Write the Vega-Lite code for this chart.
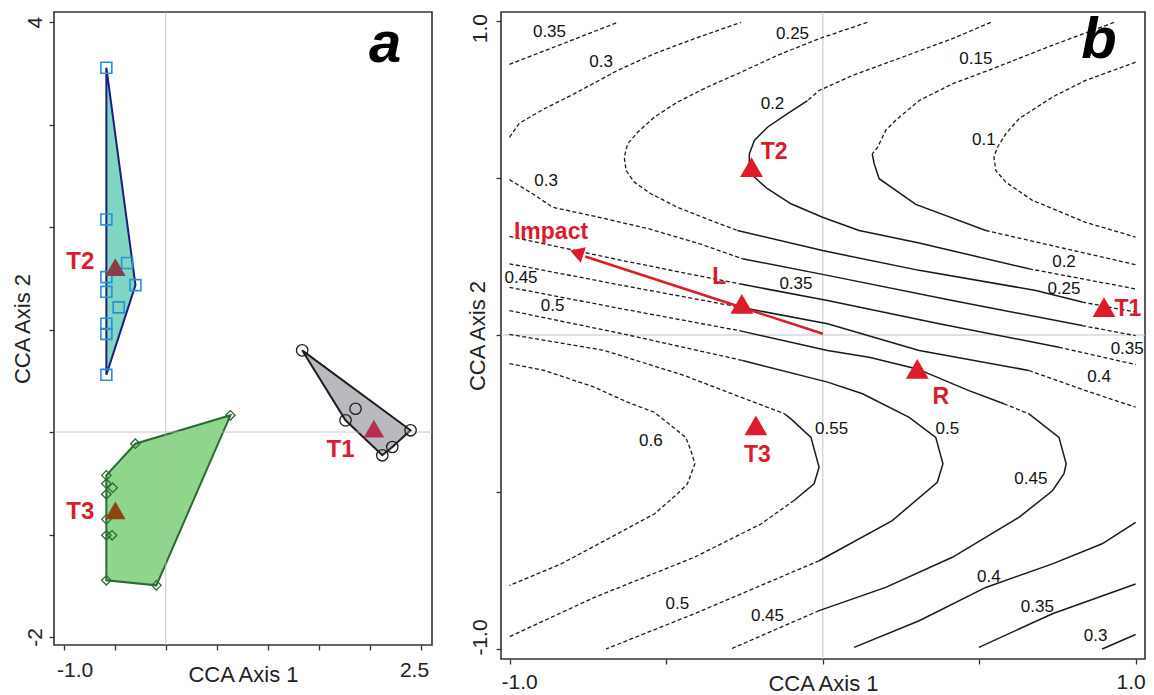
{
  "$schema": "https://vega.github.io/schema/vega-lite/v6.json",
  "background": "white",
  "padding": {"left": 10, "top": 10, "right": 6, "bottom": 0},
  "spacing": 31,
  "config": {
    "font": "Liberation Sans",
    "view": {"stroke": "#333", "strokeWidth": 1.6},
    "axis": {"grid": false, "domain": false, "labelFont": "Liberation Sans", "titleFont": "Liberation Sans", "labelFontSize": 21, "titleFontSize": 22, "titleFontWeight": "normal", "labelColor": "#222", "titleColor": "#222", "tickColor": "#333", "tickSize": 5, "tickWidth": 1.3, "labelOverlap": false, "labelFlush": false, "labelBound": false}
  },
  "datasets": {
    "a_samples": [
      {"g": "T2", "x": -0.582, "y": 3.554}, {"g": "T2", "x": -0.582, "y": 2.074}, {"g": "T2", "x": -0.582, "y": 1.511}, {"g": "T2", "x": -0.582, "y": 1.368}, {"g": "T2", "x": -0.582, "y": 1.056}, {"g": "T2", "x": -0.582, "y": 0.957}, {"g": "T2", "x": -0.582, "y": 0.558}, {"g": "T2", "x": -0.379, "y": 1.649}, {"g": "T2", "x": -0.297, "y": 1.433}, {"g": "T2", "x": -0.461, "y": 1.216},
      {"g": "T3", "x": 0.633, "y": 0.163}, {"g": "T3", "x": -0.298, "y": -0.114}, {"g": "T3", "x": -0.582, "y": -0.423}, {"g": "T3", "x": -0.582, "y": -0.504}, {"g": "T3", "x": -0.52, "y": -0.543}, {"g": "T3", "x": -0.582, "y": -0.608}, {"g": "T3", "x": -0.582, "y": -0.852}, {"g": "T3", "x": -0.582, "y": -1.008}, {"g": "T3", "x": -0.526, "y": -1.008}, {"g": "T3", "x": -0.582, "y": -1.447}, {"g": "T3", "x": -0.092, "y": -1.496},
      {"g": "T1", "x": 1.336, "y": 0.797}, {"g": "T1", "x": 1.859, "y": 0.227}, {"g": "T1", "x": 1.761, "y": 0.114}, {"g": "T1", "x": 2.398, "y": 0.017}, {"g": "T1", "x": 2.219, "y": -0.146}, {"g": "T1", "x": 2.121, "y": -0.227}
    ],
    "a_hulls": [
      {"g": "T2", "o": 1, "x": -0.582, "y": 3.554}, {"g": "T2", "o": 2, "x": -0.297, "y": 1.433}, {"g": "T2", "o": 3, "x": -0.582, "y": 0.558},
      {"g": "T3", "o": 1, "x": 0.633, "y": 0.163}, {"g": "T3", "o": 2, "x": -0.298, "y": -0.114}, {"g": "T3", "o": 3, "x": -0.582, "y": -0.423}, {"g": "T3", "o": 4, "x": -0.582, "y": -1.447}, {"g": "T3", "o": 5, "x": -0.092, "y": -1.496},
      {"g": "T1", "o": 1, "x": 1.336, "y": 0.797}, {"g": "T1", "o": 2, "x": 2.398, "y": 0.017}, {"g": "T1", "o": 3, "x": 2.219, "y": -0.146}, {"g": "T1", "o": 4, "x": 2.121, "y": -0.227}, {"g": "T1", "o": 5, "x": 1.761, "y": 0.114}
    ],
    "a_centroids": [
      {"g": "T2", "x": -0.494, "y": 1.61}, {"g": "T3", "x": -0.494, "y": -0.764}, {"g": "T1", "x": 2.039, "y": 0.033}
    ],
    "a_labels": [
      {"label": "T2", "x": -0.837, "y": 1.659}, {"label": "T3", "x": -0.837, "y": -0.78}, {"label": "T1", "x": 1.712, "y": -0.178}
    ],
    "a_tag": [{"label": "a", "x": 2.15, "y": 3.61}],
    "b_dash": [
      {"seg": "d035u", "o": 1, "x": -1.002, "y": 0.862}, {"seg": "d035u", "o": 2, "x": -0.656, "y": 0.996},
      {"seg": "d030u", "o": 1, "x": -1.002, "y": 0.63}, {"seg": "d030u", "o": 2, "x": -0.97, "y": 0.675}, {"seg": "d030u", "o": 3, "x": -0.89, "y": 0.721}, {"seg": "d030u", "o": 4, "x": -0.794, "y": 0.769}, {"seg": "d030u", "o": 5, "x": -0.656, "y": 0.843}, {"seg": "d030u", "o": 6, "x": -0.539, "y": 0.896}, {"seg": "d030u", "o": 7, "x": -0.411, "y": 0.944}, {"seg": "d030u", "o": 8, "x": -0.262, "y": 0.996},
      {"seg": "d025a", "o": 1, "x": 0.142, "y": 0.996}, {"seg": "d025a", "o": 2, "x": -0.012, "y": 0.944}, {"seg": "d025a", "o": 3, "x": -0.145, "y": 0.891}, {"seg": "d025a", "o": 4, "x": -0.262, "y": 0.837}, {"seg": "d025a", "o": 5, "x": -0.369, "y": 0.79}, {"seg": "d025a", "o": 6, "x": -0.465, "y": 0.742}, {"seg": "d025a", "o": 7, "x": -0.539, "y": 0.694}, {"seg": "d025a", "o": 8, "x": -0.592, "y": 0.646}, {"seg": "d025a", "o": 9, "x": -0.624, "y": 0.609}, {"seg": "d025a", "o": 10, "x": -0.635, "y": 0.567}, {"seg": "d025a", "o": 11, "x": -0.629, "y": 0.524}, {"seg": "d025a", "o": 12, "x": -0.603, "y": 0.487}, {"seg": "d025a", "o": 13, "x": -0.55, "y": 0.45}, {"seg": "d025a", "o": 14, "x": -0.465, "y": 0.407}, {"seg": "d025a", "o": 15, "x": -0.358, "y": 0.365}, {"seg": "d025a", "o": 16, "x": -0.273, "y": 0.333},
      {"seg": "d025b", "o": 1, "x": 0.829, "y": 0.105}, {"seg": "d025b", "o": 2, "x": 1.0, "y": 0.073},
      {"seg": "d020a", "o": 1, "x": 0.537, "y": 0.996}, {"seg": "d020a", "o": 2, "x": 0.414, "y": 0.944}, {"seg": "d020a", "o": 3, "x": 0.254, "y": 0.885}, {"seg": "d020a", "o": 4, "x": 0.095, "y": 0.827}, {"seg": "d020a", "o": 5, "x": -0.012, "y": 0.779}, {"seg": "d020a", "o": 6, "x": -0.049, "y": 0.747},
      {"seg": "d020b", "o": 1, "x": 0.659, "y": 0.211}, {"seg": "d020b", "o": 2, "x": 1.0, "y": 0.147},
      {"seg": "d015a", "o": 1, "x": 0.931, "y": 0.996}, {"seg": "d015a", "o": 2, "x": 0.734, "y": 0.923}, {"seg": "d015a", "o": 3, "x": 0.542, "y": 0.848}, {"seg": "d015a", "o": 4, "x": 0.414, "y": 0.8}, {"seg": "d015a", "o": 5, "x": 0.308, "y": 0.747}, {"seg": "d015a", "o": 6, "x": 0.233, "y": 0.684}, {"seg": "d015a", "o": 7, "x": 0.201, "y": 0.652}, {"seg": "d015a", "o": 8, "x": 0.175, "y": 0.598}, {"seg": "d015a", "o": 9, "x": 0.158, "y": 0.577},
      {"seg": "d015b", "o": 1, "x": 0.521, "y": 0.333}, {"seg": "d015b", "o": 2, "x": 1.0, "y": 0.224},
      {"seg": "d010", "o": 1, "x": 1.0, "y": 0.869}, {"seg": "d010", "o": 2, "x": 0.84, "y": 0.811}, {"seg": "d010", "o": 3, "x": 0.734, "y": 0.758}, {"seg": "d010", "o": 4, "x": 0.627, "y": 0.689}, {"seg": "d010", "o": 5, "x": 0.585, "y": 0.641}, {"seg": "d010", "o": 6, "x": 0.558, "y": 0.598}, {"seg": "d010", "o": 7, "x": 0.547, "y": 0.567}, {"seg": "d010", "o": 8, "x": 0.553, "y": 0.524}, {"seg": "d010", "o": 9, "x": 0.585, "y": 0.487}, {"seg": "d010", "o": 10, "x": 0.67, "y": 0.429}, {"seg": "d010", "o": 11, "x": 0.84, "y": 0.359}, {"seg": "d010", "o": 12, "x": 1.0, "y": 0.312},
      {"seg": "d030l", "o": 1, "x": -1.002, "y": 0.495}, {"seg": "d030l", "o": 2, "x": -0.928, "y": 0.45}, {"seg": "d030l", "o": 3, "x": -0.864, "y": 0.407}, {"seg": "d030l", "o": 4, "x": -0.715, "y": 0.375}, {"seg": "d030l", "o": 5, "x": -0.555, "y": 0.338}, {"seg": "d030l", "o": 6, "x": -0.395, "y": 0.291}, {"seg": "d030l", "o": 7, "x": -0.257, "y": 0.243},
      {"seg": "d030m", "o": 1, "x": 0.829, "y": 0.03}, {"seg": "d030m", "o": 2, "x": 1.0, "y": -0.002},
      {"seg": "d035a", "o": 1, "x": -1.002, "y": 0.314}, {"seg": "d035a", "o": 2, "x": -0.64, "y": 0.237}, {"seg": "d035a", "o": 3, "x": -0.267, "y": 0.163},
      {"seg": "d035b", "o": 1, "x": 0.755, "y": -0.039}, {"seg": "d035b", "o": 2, "x": 1.0, "y": -0.094},
      {"seg": "d040a", "o": 1, "x": -1.002, "y": 0.227}, {"seg": "d040a", "o": 2, "x": -0.64, "y": 0.158}, {"seg": "d040a", "o": 3, "x": -0.267, "y": 0.089},
      {"seg": "d040b", "o": 1, "x": 0.659, "y": -0.113}, {"seg": "d040b", "o": 2, "x": 0.84, "y": -0.177}, {"seg": "d040b", "o": 3, "x": 1.0, "y": -0.23},
      {"seg": "d045a", "o": 1, "x": -1.002, "y": 0.152}, {"seg": "d045a", "o": 2, "x": -0.64, "y": 0.083}, {"seg": "d045a", "o": 3, "x": -0.267, "y": 0.014},
      {"seg": "d045b", "o": 1, "x": 0.579, "y": -0.219}, {"seg": "d045b", "o": 2, "x": 0.659, "y": -0.251},
      {"seg": "d045c", "o": 1, "x": -0.012, "y": -0.878}, {"seg": "d045c", "o": 2, "x": -0.294, "y": -1.0},
      {"seg": "d050a", "o": 1, "x": -1.002, "y": 0.078}, {"seg": "d050a", "o": 2, "x": -0.64, "y": 0.004}, {"seg": "d050a", "o": 3, "x": -0.257, "y": -0.081},
      {"seg": "d050b", "o": 1, "x": -0.012, "y": -0.719}, {"seg": "d050b", "o": 2, "x": -0.411, "y": -0.888}, {"seg": "d050b", "o": 3, "x": -0.693, "y": -1.0},
      {"seg": "d055a", "o": 1, "x": -1.002, "y": 0.002}, {"seg": "d055a", "o": 2, "x": -0.699, "y": -0.049}, {"seg": "d055a", "o": 3, "x": -0.443, "y": -0.129}, {"seg": "d055a", "o": 4, "x": -0.252, "y": -0.202}, {"seg": "d055a", "o": 5, "x": -0.124, "y": -0.25},
      {"seg": "d055b", "o": 1, "x": -0.092, "y": -0.527}, {"seg": "d055b", "o": 2, "x": -0.198, "y": -0.602}, {"seg": "d055b", "o": 3, "x": -0.411, "y": -0.708}, {"seg": "d055b", "o": 4, "x": -0.731, "y": -0.836}, {"seg": "d055b", "o": 5, "x": -1.002, "y": -0.961},
      {"seg": "d060", "o": 1, "x": -1.002, "y": -0.091}, {"seg": "d060", "o": 2, "x": -0.89, "y": -0.113}, {"seg": "d060", "o": 3, "x": -0.731, "y": -0.166}, {"seg": "d060", "o": 4, "x": -0.624, "y": -0.214}, {"seg": "d060", "o": 5, "x": -0.539, "y": -0.246}, {"seg": "d060", "o": 6, "x": -0.438, "y": -0.326}, {"seg": "d060", "o": 7, "x": -0.422, "y": -0.368}, {"seg": "d060", "o": 8, "x": -0.409, "y": -0.41}, {"seg": "d060", "o": 9, "x": -0.433, "y": -0.474}, {"seg": "d060", "o": 10, "x": -0.465, "y": -0.506}, {"seg": "d060", "o": 11, "x": -0.539, "y": -0.57}, {"seg": "d060", "o": 12, "x": -0.677, "y": -0.644}, {"seg": "d060", "o": 13, "x": -0.837, "y": -0.729}, {"seg": "d060", "o": 14, "x": -1.002, "y": -0.798}
    ],
    "b_solid": [
      {"seg": "s025", "o": 1, "x": -0.273, "y": 0.333}, {"seg": "s025", "o": 2, "x": -0.001, "y": 0.269}, {"seg": "s025", "o": 3, "x": 0.308, "y": 0.206}, {"seg": "s025", "o": 4, "x": 0.681, "y": 0.142}, {"seg": "s025", "o": 5, "x": 0.829, "y": 0.105},
      {"seg": "s020", "o": 1, "x": -0.049, "y": 0.747}, {"seg": "s020", "o": 2, "x": -0.113, "y": 0.705}, {"seg": "s020", "o": 3, "x": -0.177, "y": 0.662}, {"seg": "s020", "o": 4, "x": -0.219, "y": 0.62}, {"seg": "s020", "o": 5, "x": -0.235, "y": 0.577}, {"seg": "s020", "o": 6, "x": -0.235, "y": 0.535}, {"seg": "s020", "o": 7, "x": -0.219, "y": 0.503}, {"seg": "s020", "o": 8, "x": -0.177, "y": 0.466}, {"seg": "s020", "o": 9, "x": -0.102, "y": 0.418}, {"seg": "s020", "o": 10, "x": -0.001, "y": 0.375}, {"seg": "s020", "o": 11, "x": 0.116, "y": 0.333}, {"seg": "s020", "o": 12, "x": 0.308, "y": 0.293}, {"seg": "s020", "o": 13, "x": 0.659, "y": 0.211},
      {"seg": "s015", "o": 1, "x": 0.158, "y": 0.577}, {"seg": "s015", "o": 2, "x": 0.164, "y": 0.546}, {"seg": "s015", "o": 3, "x": 0.18, "y": 0.498}, {"seg": "s015", "o": 4, "x": 0.297, "y": 0.416}, {"seg": "s015", "o": 5, "x": 0.521, "y": 0.333},
      {"seg": "s030", "o": 1, "x": -0.257, "y": 0.243}, {"seg": "s030", "o": 2, "x": 0.015, "y": 0.19}, {"seg": "s030", "o": 3, "x": 0.414, "y": 0.11}, {"seg": "s030", "o": 4, "x": 0.829, "y": 0.03},
      {"seg": "s035", "o": 1, "x": -0.267, "y": 0.163}, {"seg": "s035", "o": 2, "x": 0.015, "y": 0.11}, {"seg": "s035", "o": 3, "x": 0.372, "y": 0.036}, {"seg": "s035", "o": 4, "x": 0.755, "y": -0.039},
      {"seg": "s040", "o": 1, "x": -0.267, "y": 0.089}, {"seg": "s040", "o": 2, "x": 0.015, "y": 0.036}, {"seg": "s040", "o": 3, "x": 0.308, "y": -0.049}, {"seg": "s040", "o": 4, "x": 0.659, "y": -0.113},
      {"seg": "s045a", "o": 1, "x": -0.267, "y": 0.014}, {"seg": "s045a", "o": 2, "x": 0.015, "y": -0.049}, {"seg": "s045a", "o": 3, "x": 0.148, "y": -0.071}, {"seg": "s045a", "o": 4, "x": 0.302, "y": -0.108}, {"seg": "s045a", "o": 5, "x": 0.467, "y": -0.177}, {"seg": "s045a", "o": 6, "x": 0.579, "y": -0.219},
      {"seg": "s045b", "o": 1, "x": 0.659, "y": -0.251}, {"seg": "s045b", "o": 2, "x": 0.755, "y": -0.326}, {"seg": "s045b", "o": 3, "x": 0.778, "y": -0.41}, {"seg": "s045b", "o": 4, "x": 0.771, "y": -0.442}, {"seg": "s045b", "o": 5, "x": 0.734, "y": -0.496}, {"seg": "s045b", "o": 6, "x": 0.627, "y": -0.581}, {"seg": "s045b", "o": 7, "x": 0.414, "y": -0.708}, {"seg": "s045b", "o": 8, "x": 0.201, "y": -0.804}, {"seg": "s045b", "o": 9, "x": -0.012, "y": -0.878},
      {"seg": "s050", "o": 1, "x": -0.257, "y": -0.081}, {"seg": "s050", "o": 2, "x": 0.015, "y": -0.15}, {"seg": "s050", "o": 3, "x": 0.127, "y": -0.187}, {"seg": "s050", "o": 4, "x": 0.276, "y": -0.262}, {"seg": "s050", "o": 5, "x": 0.361, "y": -0.326}, {"seg": "s050", "o": 6, "x": 0.384, "y": -0.41}, {"seg": "s050", "o": 7, "x": 0.366, "y": -0.469}, {"seg": "s050", "o": 8, "x": 0.222, "y": -0.591}, {"seg": "s050", "o": 9, "x": -0.012, "y": -0.719},
      {"seg": "s055", "o": 1, "x": -0.124, "y": -0.25}, {"seg": "s055", "o": 2, "x": -0.102, "y": -0.267}, {"seg": "s055", "o": 3, "x": -0.038, "y": -0.326}, {"seg": "s055", "o": 4, "x": -0.012, "y": -0.421}, {"seg": "s055", "o": 5, "x": -0.028, "y": -0.474}, {"seg": "s055", "o": 6, "x": -0.092, "y": -0.527},
      {"seg": "s040l", "o": 1, "x": 0.1, "y": -0.995}, {"seg": "s040l", "o": 2, "x": 0.308, "y": -0.91}, {"seg": "s040l", "o": 3, "x": 0.521, "y": -0.804}, {"seg": "s040l", "o": 4, "x": 0.734, "y": -0.729}, {"seg": "s040l", "o": 5, "x": 0.893, "y": -0.665}, {"seg": "s040l", "o": 6, "x": 1.0, "y": -0.597},
      {"seg": "s035l", "o": 1, "x": 0.499, "y": -0.995}, {"seg": "s035l", "o": 2, "x": 0.734, "y": -0.888}, {"seg": "s035l", "o": 3, "x": 1.0, "y": -0.793},
      {"seg": "s030l", "o": 1, "x": 0.893, "y": -1.0}, {"seg": "s030l", "o": 2, "x": 1.0, "y": -0.954}
    ],
    "b_levels": [
      {"label": "0.35", "x": -0.874, "y": 0.965}, {"label": "0.3", "x": -0.709, "y": 0.869}, {"label": "0.25", "x": -0.097, "y": 0.96}, {"label": "0.2", "x": -0.161, "y": 0.737}, {"label": "0.15", "x": 0.489, "y": 0.88}, {"label": "0.1", "x": 0.515, "y": 0.62},
      {"label": "0.3", "x": -0.885, "y": 0.492}, {"label": "0.2", "x": 0.771, "y": 0.232}, {"label": "0.25", "x": 0.771, "y": 0.147}, {"label": "0.35", "x": -0.086, "y": 0.163}, {"label": "0.45", "x": -0.965, "y": 0.182}, {"label": "0.5", "x": -0.864, "y": 0.092},
      {"label": "0.35", "x": 0.973, "y": -0.044}, {"label": "0.4", "x": 0.883, "y": -0.134}, {"label": "0.6", "x": -0.55, "y": -0.336}, {"label": "0.55", "x": 0.028, "y": -0.299}, {"label": "0.5", "x": 0.398, "y": -0.299}, {"label": "0.45", "x": 0.665, "y": -0.458},
      {"label": "0.5", "x": -0.465, "y": -0.857}, {"label": "0.45", "x": -0.177, "y": -0.894}, {"label": "0.4", "x": 0.531, "y": -0.772}, {"label": "0.35", "x": 0.686, "y": -0.867}, {"label": "0.3", "x": 0.872, "y": -0.958}
    ],
    "b_sites": [
      {"label": "T2", "x": -0.228, "y": 0.535}, {"label": "L", "x": -0.259, "y": 0.099}, {"label": "T1", "x": 0.899, "y": 0.089}, {"label": "R", "x": 0.302, "y": -0.108}, {"label": "T3", "x": -0.214, "y": -0.288}
    ],
    "b_sitelabels": [
      {"label": "T2", "x": -0.156, "y": 0.583}, {"label": "Impact", "x": -0.869, "y": 0.328}, {"label": "L", "x": -0.331, "y": 0.184}, {"label": "T1", "x": 0.975, "y": 0.084}, {"label": "R", "x": 0.377, "y": -0.198}, {"label": "T3", "x": -0.209, "y": -0.381}
    ],
    "b_arrow": [{"o": 1, "x": 0.0, "y": 0.004}, {"o": 2, "x": -0.76, "y": 0.25}],
    "b_arrowhead": [{"x": -0.787, "y": 0.262}],
    "b_tag": [{"label": "b", "x": 0.883, "y": 0.881}]
  },
  "hconcat": [
    {
      "width": 378,
      "height": 633,
      "layer": [
        {
          "data": {"name": "a_hulls"},
          "transform": [{"filter": "datum.g == 'T2'"}],
          "mark": {"type": "line", "interpolate": "linear-closed", "fill": "#80d6c2", "stroke": "#1b1f7e", "strokeWidth": 2},
          "encoding": {
            "x": {"field": "x", "type": "quantitative", "title": "CCA Axis 1", "scale": {"domain": [-1.095, 2.608], "nice": false, "zero": false},
                  "axis": {"title": "CCA Axis 1", "values": [-1, -0.5, 0, 0.5, 1, 1.5, 2, 2.5], "labelExpr": "datum.value == -1 ? '-1.0' : (datum.value == 2.5 ? '2.5' : '')", "labelPadding": 9, "labelOffset": {"condition": {"test": "datum.value < 0", "value": 11}, "value": -7}, "titleY": 29, "titleBaseline": "middle"}},
            "y": {"field": "y", "type": "quantitative", "title": "CCA Axis 2", "scale": {"domain": [-2.078, 4.098], "nice": false, "zero": false},
                  "axis": {"title": "CCA Axis 2", "values": [-2, -1, 0, 1, 2, 3, 4], "labelExpr": "datum.value == 4 ? '4' : (datum.value == -2 ? '-2' : '')", "labelAngle": 270, "labelAlign": "center", "labelBaseline": "bottom", "labelPadding": 4, "titleAngle": 270, "titleX": -32, "titleBaseline": "middle"}},
            "order": {"field": "o", "type": "quantitative"}
          }
        },
        {
          "data": {"name": "a_hulls"},
          "transform": [{"filter": "datum.g == 'T3'"}],
          "mark": {"type": "line", "interpolate": "linear-closed", "fill": "#8fd68c", "stroke": "#2c6a32", "strokeWidth": 2},
          "encoding": {
            "x": {"field": "x", "type": "quantitative", "title": "CCA Axis 1", "scale": {"domain": [-1.095, 2.608], "nice": false, "zero": false}},
            "y": {"field": "y", "type": "quantitative", "title": "CCA Axis 2", "scale": {"domain": [-2.078, 4.098], "nice": false, "zero": false}},
            "order": {"field": "o", "type": "quantitative"}
          }
        },
        {
          "data": {"name": "a_hulls"},
          "transform": [{"filter": "datum.g == 'T1'"}],
          "mark": {"type": "line", "interpolate": "linear-closed", "fill": "#b9b9c0", "stroke": "#1e1e1e", "strokeWidth": 2},
          "encoding": {
            "x": {"field": "x", "type": "quantitative", "title": "CCA Axis 1", "scale": {"domain": [-1.095, 2.608], "nice": false, "zero": false}},
            "y": {"field": "y", "type": "quantitative", "title": "CCA Axis 2", "scale": {"domain": [-2.078, 4.098], "nice": false, "zero": false}},
            "order": {"field": "o", "type": "quantitative"}
          }
        },
        {
          "data": {"values": [{}]},
          "mark": {"type": "rule", "color": "#b8b8b8", "strokeWidth": 1, "opacity": 0.8},
          "encoding": {"x": {"datum": 0, "type": "quantitative", "title": "CCA Axis 1", "scale": {"domain": [-1.095, 2.608], "nice": false, "zero": false}}}
        },
        {
          "data": {"values": [{}]},
          "mark": {"type": "rule", "color": "#b8b8b8", "strokeWidth": 1, "opacity": 0.8},
          "encoding": {"y": {"datum": 0, "type": "quantitative", "title": "CCA Axis 2", "scale": {"domain": [-2.078, 4.098], "nice": false, "zero": false}}}
        },
        {
          "data": {"name": "a_samples"},
          "transform": [{"filter": "datum.g == 'T2'"}],
          "mark": {"type": "point", "shape": "square", "filled": false, "stroke": "#2b8fd6", "strokeWidth": 1.6, "size": 120, "opacity": 1},
          "encoding": {
            "x": {"field": "x", "type": "quantitative", "title": "CCA Axis 1", "scale": {"domain": [-1.095, 2.608], "nice": false, "zero": false}},
            "y": {"field": "y", "type": "quantitative", "title": "CCA Axis 2", "scale": {"domain": [-2.078, 4.098], "nice": false, "zero": false}}
          }
        },
        {
          "data": {"name": "a_samples"},
          "transform": [{"filter": "datum.g == 'T3'"}],
          "mark": {"type": "point", "shape": "diamond", "filled": false, "stroke": "#2c6a32", "strokeWidth": 1.3, "size": 90, "opacity": 1},
          "encoding": {
            "x": {"field": "x", "type": "quantitative", "title": "CCA Axis 1", "scale": {"domain": [-1.095, 2.608], "nice": false, "zero": false}},
            "y": {"field": "y", "type": "quantitative", "title": "CCA Axis 2", "scale": {"domain": [-2.078, 4.098], "nice": false, "zero": false}}
          }
        },
        {
          "data": {"name": "a_samples"},
          "transform": [{"filter": "datum.g == 'T1'"}],
          "mark": {"type": "point", "shape": "circle", "filled": false, "stroke": "#1e1e1e", "strokeWidth": 1.3, "size": 130, "opacity": 1},
          "encoding": {
            "x": {"field": "x", "type": "quantitative", "title": "CCA Axis 1", "scale": {"domain": [-1.095, 2.608], "nice": false, "zero": false}},
            "y": {"field": "y", "type": "quantitative", "title": "CCA Axis 2", "scale": {"domain": [-2.078, 4.098], "nice": false, "zero": false}}
          }
        },
        {
          "data": {"name": "a_centroids"},
          "mark": {"type": "point", "shape": "triangle-up", "filled": true, "size": 420, "opacity": 1, "strokeWidth": 0},
          "encoding": {
            "x": {"field": "x", "type": "quantitative", "title": "CCA Axis 1", "scale": {"domain": [-1.095, 2.608], "nice": false, "zero": false}},
            "y": {"field": "y", "type": "quantitative", "title": "CCA Axis 2", "scale": {"domain": [-2.078, 4.098], "nice": false, "zero": false}},
            "fill": {"field": "g", "type": "nominal", "scale": {"domain": ["T1", "T2", "T3"], "range": ["#b5304f", "#8a3c48", "#8a4714"]}, "legend": null}
          }
        },
        {
          "data": {"name": "a_labels"},
          "mark": {"type": "text", "fontSize": 24, "fontWeight": "bold", "color": "#d81e2e", "align": "center", "baseline": "middle"},
          "encoding": {
            "x": {"field": "x", "type": "quantitative", "title": "CCA Axis 1", "scale": {"domain": [-1.095, 2.608], "nice": false, "zero": false}},
            "y": {"field": "y", "type": "quantitative", "title": "CCA Axis 2", "scale": {"domain": [-2.078, 4.098], "nice": false, "zero": false}},
            "text": {"field": "label", "type": "nominal"}
          }
        },
        {
          "data": {"name": "a_tag"},
          "mark": {"type": "text", "fontSize": 58, "fontWeight": "bold", "fontStyle": "italic", "color": "#000", "align": "center", "baseline": "alphabetic"},
          "encoding": {
            "x": {"field": "x", "type": "quantitative", "title": "CCA Axis 1", "scale": {"domain": [-1.095, 2.608], "nice": false, "zero": false}},
            "y": {"field": "y", "type": "quantitative", "title": "CCA Axis 2", "scale": {"domain": [-2.078, 4.098], "nice": false, "zero": false}},
            "text": {"field": "label", "type": "nominal"}
          }
        }
      ]
    },
    {
      "width": 644,
      "height": 647,
      "layer": [
        {
          "data": {"values": [{}]},
          "mark": {"type": "rule", "color": "#c4c4c4", "strokeWidth": 1},
          "encoding": {"x": {"datum": 0, "type": "quantitative", "title": "CCA Axis 1", "scale": {"domain": [-1.029, 1.03], "nice": false, "zero": false}}}
        },
        {
          "data": {"values": [{}]},
          "mark": {"type": "rule", "color": "#c4c4c4", "strokeWidth": 1},
          "encoding": {"y": {"datum": 0, "type": "quantitative", "title": "CCA Axis 2", "scale": {"domain": [-1.032, 1.029], "nice": false, "zero": false}}}
        },
        {
          "data": {"name": "b_dash"},
          "mark": {"type": "line", "color": "#1a1a1a", "strokeWidth": 1.3, "strokeDash": [4, 2.5]},
          "encoding": {
            "x": {"field": "x", "type": "quantitative", "title": "CCA Axis 1", "scale": {"domain": [-1.029, 1.03], "nice": false, "zero": false},
                  "axis": {"title": "CCA Axis 1", "values": [-1, -0.5, 0, 0.5, 1], "labelExpr": "datum.value == -1 ? '-1.0' : (datum.value == 1 ? '1.0' : '')", "labelPadding": 7, "labelOffset": {"condition": {"test": "datum.value < 0", "value": 9}, "value": -5}, "titleY": 24, "titleBaseline": "middle"}},
            "y": {"field": "y", "type": "quantitative", "title": "CCA Axis 2", "scale": {"domain": [-1.032, 1.029], "nice": false, "zero": false},
                  "axis": {"title": "CCA Axis 2", "values": [-1, -0.5, 0, 0.5, 1], "labelExpr": "datum.value == 1 ? '1.0' : (datum.value == -1 ? '-1.0' : '')", "labelAngle": 270, "labelAlign": "center", "labelBaseline": "bottom", "labelPadding": 6, "labelOffset": {"condition": {"test": "datum.value > 0", "value": 7}, "value": -12}, "titleAngle": 270, "titleX": -24, "titleBaseline": "middle"}},
            "detail": {"field": "seg", "type": "nominal"},
            "order": {"field": "o", "type": "quantitative"}
          }
        },
        {
          "data": {"name": "b_solid"},
          "mark": {"type": "line", "color": "#1a1a1a", "strokeWidth": 1.5},
          "encoding": {
            "x": {"field": "x", "type": "quantitative", "title": "CCA Axis 1", "scale": {"domain": [-1.029, 1.03], "nice": false, "zero": false}},
            "y": {"field": "y", "type": "quantitative", "title": "CCA Axis 2", "scale": {"domain": [-1.032, 1.029], "nice": false, "zero": false}},
            "detail": {"field": "seg", "type": "nominal"},
            "order": {"field": "o", "type": "quantitative"}
          }
        },
        {
          "data": {"name": "b_levels"},
          "mark": {"type": "text", "fontSize": 17, "color": "#111", "align": "center", "baseline": "middle"},
          "encoding": {
            "x": {"field": "x", "type": "quantitative", "title": "CCA Axis 1", "scale": {"domain": [-1.029, 1.03], "nice": false, "zero": false}},
            "y": {"field": "y", "type": "quantitative", "title": "CCA Axis 2", "scale": {"domain": [-1.032, 1.029], "nice": false, "zero": false}},
            "text": {"field": "label", "type": "nominal"}
          }
        },
        {
          "data": {"name": "b_arrow"},
          "mark": {"type": "line", "color": "#dc1b2b", "strokeWidth": 2.6},
          "encoding": {
            "x": {"field": "x", "type": "quantitative", "title": "CCA Axis 1", "scale": {"domain": [-1.029, 1.03], "nice": false, "zero": false}},
            "y": {"field": "y", "type": "quantitative", "title": "CCA Axis 2", "scale": {"domain": [-1.032, 1.029], "nice": false, "zero": false}},
            "order": {"field": "o", "type": "quantitative"}
          }
        },
        {
          "data": {"name": "b_arrowhead"},
          "mark": {"type": "point", "shape": "triangle-left", "filled": true, "color": "#dc1b2b", "size": 260, "angle": 18.5, "opacity": 1},
          "encoding": {
            "x": {"field": "x", "type": "quantitative", "title": "CCA Axis 1", "scale": {"domain": [-1.029, 1.03], "nice": false, "zero": false}},
            "y": {"field": "y", "type": "quantitative", "title": "CCA Axis 2", "scale": {"domain": [-1.032, 1.029], "nice": false, "zero": false}}
          }
        },
        {
          "data": {"name": "b_sites"},
          "mark": {"type": "point", "shape": "triangle-up", "filled": true, "color": "#dc1b2b", "size": 520, "opacity": 1},
          "encoding": {
            "x": {"field": "x", "type": "quantitative", "title": "CCA Axis 1", "scale": {"domain": [-1.029, 1.03], "nice": false, "zero": false}},
            "y": {"field": "y", "type": "quantitative", "title": "CCA Axis 2", "scale": {"domain": [-1.032, 1.029], "nice": false, "zero": false}}
          }
        },
        {
          "data": {"name": "b_sitelabels"},
          "mark": {"type": "text", "fontSize": 23, "fontWeight": "bold", "color": "#dc1b2b", "align": "center", "baseline": "middle"},
          "encoding": {
            "x": {"field": "x", "type": "quantitative", "title": "CCA Axis 1", "scale": {"domain": [-1.029, 1.03], "nice": false, "zero": false}},
            "y": {"field": "y", "type": "quantitative", "title": "CCA Axis 2", "scale": {"domain": [-1.032, 1.029], "nice": false, "zero": false}},
            "text": {"field": "label", "type": "nominal"}
          }
        },
        {
          "data": {"name": "b_tag"},
          "mark": {"type": "text", "fontSize": 58, "fontWeight": "bold", "fontStyle": "italic", "color": "#000", "align": "center", "baseline": "alphabetic"},
          "encoding": {
            "x": {"field": "x", "type": "quantitative", "title": "CCA Axis 1", "scale": {"domain": [-1.029, 1.03], "nice": false, "zero": false}},
            "y": {"field": "y", "type": "quantitative", "title": "CCA Axis 2", "scale": {"domain": [-1.032, 1.029], "nice": false, "zero": false}},
            "text": {"field": "label", "type": "nominal"}
          }
        }
      ]
    }
  ]
}
